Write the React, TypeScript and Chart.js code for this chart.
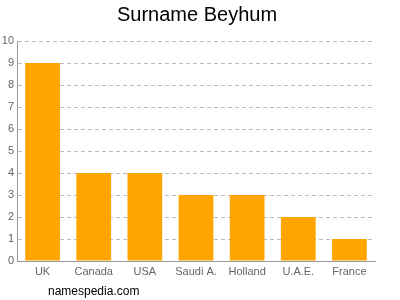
import React, { useEffect, useRef } from "react";
import { Chart, registerables } from "chart.js";

Chart.register(...registerables);

const categories = ["UK", "Canada", "USA", "Saudi A.", "Holland", "U.A.E.", "France"];
const counts = [9, 4, 4, 3, 3, 2, 1];
const titleText = "Surname Beyhum";
const watermark = "namespedia.com";

const FONT = "'Liberation Sans', Arial, sans-serif";

const textPlugin = {
  id: "texts",
  afterDraw(chart: any) {
    const ctx = chart.ctx;
    ctx.save();
    ctx.fillStyle = "#000";
    ctx.font = `20px ${FONT}`;
    ctx.textAlign = "center";
    ctx.textBaseline = "middle";
    ctx.fillText(titleText, 197, 15);
    ctx.font = `12px ${FONT}`;
    ctx.textAlign = "left";
    ctx.fillText(watermark, 48, 292);
    ctx.restore();
  },
};

export default function App() {
  const ref = useRef<HTMLCanvasElement>(null);
  useEffect(() => {
    const chart = new Chart(ref.current!, {
      type: "bar",
      data: {
        labels: categories,
        datasets: [
          {
            data: counts,
            backgroundColor: "#FFA500",
            borderWidth: 0,
            barPercentage: 0.68,
            categoryPercentage: 1,
          },
        ],
      },
      options: {
        animation: false,
        responsive: false,
        layout: { padding: { top: 41, left: 0, right: 25, bottom: 19 } },
        plugins: { legend: { display: false }, title: { display: false }, tooltip: { enabled: false } },
        scales: {
          x: {
            grid: { display: false, drawTicks: false },
            border: { display: true, color: "#999" },
            ticks: { color: "#666", font: { family: FONT, size: 11 }, padding: 4 },
            afterFit: (s: any) => {
              s.height = 20;
            },
          },
          y: {
            min: 0,
            max: 10,
            grid: { color: "#bbb", drawTicks: false },
            border: { display: true, color: "#999", dash: [4, 3] },
            ticks: { stepSize: 1, color: "#666", font: { family: FONT, size: 11 }, padding: 3 },
            afterFit: (s: any) => {
              s.width = 17;
            },
          },
        },
      },
      plugins: [textPlugin],
    });
    return () => chart.destroy();
  }, []);
  return (
    <div style={{ position: "fixed", left: 0, top: 0, width: 400, height: 300, background: "#fff" }}>
      <canvas ref={ref} width={400} height={300} />
    </div>
  );
}
